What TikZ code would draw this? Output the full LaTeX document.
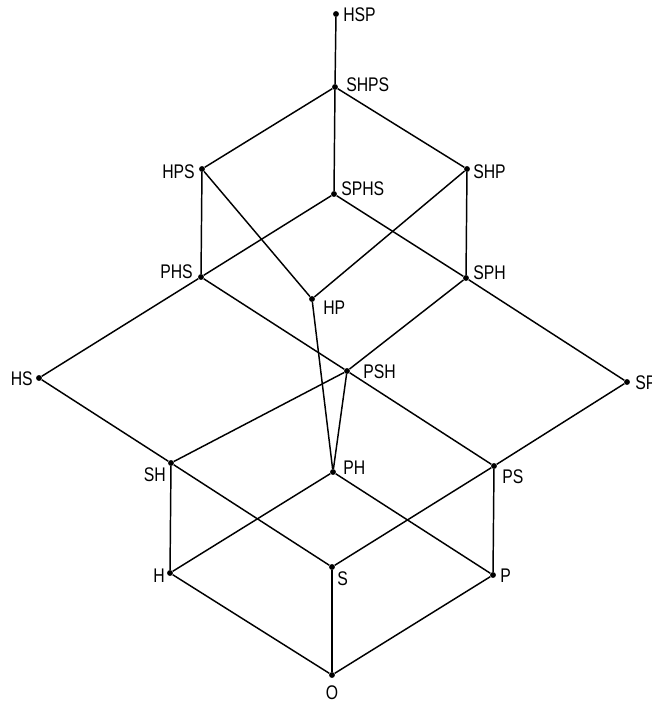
\documentclass[tikz,border=0pt]{standalone}
\usepackage{fontspec}
\setmainfont{Liberation Sans}[FakeStretch=0.8]
\begin{document}
\begin{tikzpicture}[x=0.75pt,y=-0.75pt,
  dot/.style={circle,fill=black,inner sep=0pt,minimum size=4.4pt},
  lbl/.style={inner sep=0pt,font=\fontsize{14.8}{15}\selectfont,text height=10.6pt,text depth=0pt},
  edge/.style={line width=1.1pt,black}]
\useasboundingbox (0,0) rectangle (652,703);
% vertices
\node[dot] (HSP)  at (336,14) {};
\node[dot] (SHPS) at (335,87) {};
\node[dot] (HPS)  at (202,169) {};
\node[dot] (SHP)  at (467,169) {};
\node[dot] (SPHS) at (334,194) {};
\node[dot] (PHS)  at (201,277) {};
\node[dot] (SPH)  at (466,278) {};
\node[dot] (HP)   at (312,299) {};
\node[dot] (HS)   at (39,378) {};
\node[dot] (PSH)  at (347,371) {};
\node[dot] (SP)   at (627,382) {};
\node[dot] (SH)   at (171,463) {};
\node[dot] (PH)   at (333,472) {};
\node[dot] (PS)   at (494,466) {};
\node[dot] (H)    at (170,573) {};
\node[dot] (S)    at (332,567) {};
\node[dot] (P)    at (493,575) {};
\node[dot] (O)    at (332,675) {};
% edges
\draw[edge] (HSP) -- (SHPS);
\draw[edge] (SHPS) -- (HPS);
\draw[edge] (SHPS) -- (SHP);
\draw[edge] (SHPS) -- (SPHS);
\draw[edge] (HPS) -- (PHS);
\draw[edge] (HPS) -- (HP);
\draw[edge] (SHP) -- (SPH);
\draw[edge] (SHP) -- (HP);
\draw[edge] (SPHS) -- (PHS);
\draw[edge] (SPHS) -- (SPH);
\draw[edge] (PHS) -- (HS);
\draw[edge] (PHS) -- (PSH);
\draw[edge] (SPH) -- (SP);
\draw[edge] (SPH) -- (PSH);
\draw[edge] (HP) -- (PH);
\draw[edge] (PSH) -- (PH);
\draw[edge] (PSH) -- (SH);
\draw[edge] (PSH) -- (PS);
\draw[edge] (HS) -- (SH);
\draw[edge] (SP) -- (PS);
\draw[edge] (SH) -- (H);
\draw[edge] (SH) -- (S);
\draw[edge] (PH) -- (H);
\draw[edge] (PH) -- (P);
\draw[edge] (PS) -- (S);
\draw[edge] (PS) -- (P);
\draw[edge] (H) -- (O);
\draw[edge] (S) -- (O);
\draw[edge] (P) -- (O);
% labels
\node[lbl,anchor=west] (lHSP)  at (343,14)  {HSP};
\node[lbl,anchor=west] (lSHPS) at (346,84)  {SHPS};
\node[lbl,anchor=east] (lHPS)  at (195,171) {HPS};
\node[lbl,anchor=west] (lSHP)  at (473,171) {SHP};
\node[lbl,anchor=west] (lSPHS) at (341,188) {SPHS};
\node[lbl,anchor=east] (lPHS)  at (193,271) {PHS};
\node[lbl,anchor=west] (lHP)   at (323,307) {HP};
\node[lbl,anchor=west] (lSPH)  at (473,272) {SPH};
\node[lbl,anchor=west] (lPSH)  at (363,371) {PSH};
\node[lbl,anchor=east] (lHS)   at (33,378)  {HS};
\node[lbl,anchor=east] (lSH)   at (166,474) {SH};
\node[lbl,anchor=west] (lPH)   at (343,467) {PH};
\node[lbl,anchor=west] (lSP)   at (635,382) {SP};
\node[lbl,anchor=west] (lPS)   at (502,476) {PS};
\node[lbl,anchor=east] (lH)    at (165,575) {H};
\node[lbl,anchor=west] (lS)    at (337,578) {S};
\node[lbl,anchor=west] (lP)    at (500,575) {P};
\node[lbl,anchor=center] (lO)  at (332,692) {O};
\end{tikzpicture}
\end{document}
